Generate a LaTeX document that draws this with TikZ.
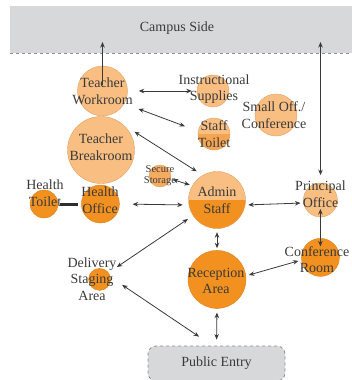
\documentclass[tikz,border=0pt]{standalone}
\usepackage{fontspec}
\setmainfont{Liberation Serif}
\usepackage{xcolor}
\usepackage{tikz}
\usetikzlibrary{positioning,arrows.meta}

\definecolor{roomlight}{HTML}{F9BE82}
\definecolor{roomdark}{HTML}{F2911F}
\definecolor{roommid}{HTML}{F5A552}
\definecolor{roomedge}{HTML}{E2A064}
\definecolor{roomdarkedge}{HTML}{D98020}
\definecolor{areagray}{HTML}{D7D8DA}
\definecolor{dashgray}{HTML}{8E8E8E}
\definecolor{inkgray}{HTML}{3A3A3A}

\newcommand{\roomfont}{\fontsize{14}{16.6}\selectfont}
\newcommand{\tinyroomfont}{\fontsize{10.5}{11}\selectfont}

\tikzset{
	room/.style={circle, inner sep=0pt, draw=roomedge, line width=0.4pt},
	lightroom/.style={room, fill=roomlight},
	midroom/.style={room, fill=roommid!70!roomlight},
	darkroom/.style={room, fill=roomdark, draw=roomdarkedge},
	halfroom/.style={room, fill=roomlight, path picture={\fill[#1] (path picture bounding box.west) rectangle (path picture bounding box.south east);}},
	lbl/.style={align=center, text=inkgray, font=\roomfont, inner sep=1pt},
	tinylbl/.style={lbl, font=\tinyroomfont},
	link/.style={{Stealth[length=5.5pt,width=4.5pt]}-{Stealth[length=5.5pt,width=4.5pt]}, line width=0.8pt, draw=inkgray},
	uplink/.style={-{Stealth[length=5.5pt,width=4.5pt]}, line width=0.8pt, draw=inkgray},
	wall/.style={line width=3pt, draw=inkgray!80!black}
}

\begin{document}
\begin{tikzpicture}[x=1pt, y=-1pt]
	\useasboundingbox (0,0) rectangle (351,380);

	% fasce
	\fill[areagray] (10,6) rectangle (360,53);
	\draw[dashgray, dashed, line width=0.8pt] (10,53) -- (360,53);
	\node[lbl] (campus) at (177,28) {Campus Side};
	\coordinate (gate) at (0,42);
	\node[rectangle, rounded corners=8pt, fill=areagray, draw=dashgray, dashed, line width=0.8pt, minimum width=137pt, minimum height=35pt, font=\roomfont, text=inkgray] (pub) at (216.5,363.5) {Public Entry};

	% stanze
	\node[lightroom, minimum size=50pt] (wrk) at (102.5,91) {};
	\node[lightroom, minimum size=32pt] (sup) at (213,91) {};
	\node[lightroom, minimum size=42pt] (soff) at (276,115) {};
	\node[halfroom=roommid, minimum size=32pt] (stt) at (214,134) {};
	\node[lightroom, minimum size=67pt] (brk) at (101,150) {};
	\node[midroom, minimum size=22pt] (sto) at (160,176) {};
	\node[halfroom=roomdark, minimum size=57pt] (adm) at (217,200) {};
	\node[darkroom, minimum size=28pt] (hto) at (44,204) {};
	\node[darkroom, minimum size=38pt, right=23pt of hto] (hof) {};
	\node[lightroom, minimum size=34pt, right=57.5pt of adm] (pri) {};
	\node[darkroom, minimum size=38pt, below=21pt of pri] (cnf) {};
	\node[darkroom, minimum size=58pt, below=21.5pt of adm] (rec) {};
	\node[darkroom, minimum size=22pt, left=77pt of rec] (del) {};

	% testi
	\node[lbl] (wrktxt) at (wrk) {Teacher\\Workroom};
	\node[lbl] (suptxt) at (214,89) {Instructional\\Supplies};
	\node[lbl] (sofftxt) at (274,115) {Small Off./\\Conference};
	\node[lbl] (stttxt) at (stt) {Staff\\Toilet};
	\node[lbl] (brktxt) at (101,147) {Teacher\\Breakroom};
	\node[tinylbl] (stotxt) at (sto) {Secure\\Storage};
	\node[lbl] (admtxt) at (adm) {Admin\\Staff};
	\node[lbl] (htotxt) at (45,193) {Health\\Toilet};
	\node[lbl] (hoftxt) at (100,200) {Health\\Office};
	\node[lbl] (pritxt) at (320.5,194.5) {Principal\\Office};
	\node[lbl] (cnftxt) at (317,259.5) {Conference\\Room};
	\node[lbl] (rectxt) at (216,281) {Reception\\Area};
	\node[lbl] (deltxt) at (92,279) {Delivery\\Staging\\Area};

	% frecce
	\draw[uplink, shorten <=6pt] (wrk.center) -- (wrk.center |- gate);
	\draw[link, shorten >=5pt] (gate -| pritxt.north) -- (pritxt.north);
	\draw[link, shorten <=11pt, shorten >=5pt] (wrk.east) -- (sup.west);
	\draw[link, shorten <=15pt, shorten >=14pt] (wrk.-30) -- (stt.170);
	\draw[link, shorten <=14pt, shorten >=7pt] (brk.50) -- (adm.120);
	\draw[link, shorten <=2pt, shorten >=2.5pt] (sto.-15) -- (adm.150);
	\draw[wall, shorten <=2pt, shorten >=3pt] (hto.east) -- (hof.west);
	\draw[link, shorten <=13pt, shorten >=6pt] (hof.east) -- (adm.190);
	\draw[link, shorten <=3pt, shorten >=3pt] (adm.-10) -- (pri.190);
	\draw[link, shorten <=9pt, shorten >=11pt] (pri.center) -- (cnf.center);
	\draw[link, shorten <=3.5pt, shorten >=2pt] (adm.south) -- (rec.north);
	\draw[link, shorten <=10pt, shorten >=6pt] (del.37) -- (adm.213);
	\draw[link, shorten <=3pt, shorten >=3pt] (rec.7) -- (cnf.188);
	\draw[link, shorten <=4pt, shorten >=6pt] (rec.south) -- (pub.north);
	\draw[link, shorten <=14pt, shorten >=16pt] (del.12) -- (pub.103);
\end{tikzpicture}
\end{document}
